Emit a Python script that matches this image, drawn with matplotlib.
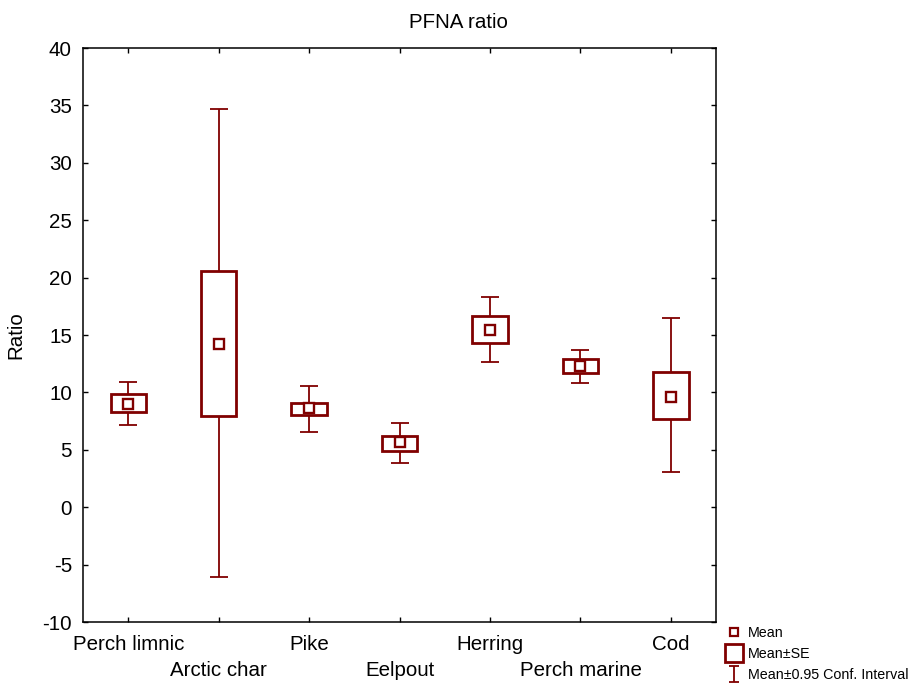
import matplotlib
matplotlib.use("Agg")
import matplotlib.pyplot as plt
from matplotlib.lines import Line2D
from matplotlib.path import Path

plt.rcParams["font.family"] = ["Liberation Sans", "DejaVu Sans"]
plt.rcParams["axes.unicode_minus"] = False

# ── data ─────────────────────────────────────────────────────────────────────
species = ["Perch limnic", "Arctic char", "Pike", "Eelpout",
           "Herring", "Perch marine", "Cod"]
mean    = [8.96, 14.19, 8.64, 5.68, 15.41, 12.30, 9.60]
se_lo   = [8.27,  7.94, 8.00, 4.90, 14.27, 11.72, 7.68]
se_hi   = [9.86, 20.57, 9.10, 6.20, 16.68, 12.90, 11.78]
ci_lo   = [7.16, -6.08, 6.55, 3.85, 12.62, 10.84, 3.07]
ci_hi   = [10.88, 34.66, 10.56, 7.33, 18.34, 13.72, 16.48]

col = "#800000"
fs = 14.8

fig = plt.figure(figsize=(9.17, 6.88), dpi=100)
ax = fig.add_axes([0.0905, 0.0959, 0.6905, 0.8343])

x = list(range(len(species)))

# whiskers (CI)
ax.errorbar(x, mean,
            yerr=[[m - lo for m, lo in zip(mean, ci_lo)],
                  [hi - m for m, hi in zip(mean, ci_hi)]],
            fmt="none", ecolor=col, elinewidth=1.3, capsize=6.5,
            capthick=1.3, zorder=2)
# SE boxes
ax.bar(x, [h - l for h, l in zip(se_hi, se_lo)], bottom=se_lo, width=0.39,
       facecolor="white", edgecolor=col, linewidth=2, zorder=3)
# mean markers
ax.plot(x, mean, ls="none", marker="s", ms=6.5, mfc="white", mec=col,
        mew=1.7, zorder=4)

ax.set_xlim(-0.5, len(species) - 0.5)
ax.set_ylim(-10, 40)
ax.set_yticks(range(-10, 41, 5))
# staggered category labels: even ones as major ticks, odd ones as minor
ax.set_xticks(x[0::2], species[0::2])
ax.set_xticks(x[1::2], species[1::2], minor=True)
ax.tick_params(which="both", direction="in", top=True, right=True,
               length=3.5, width=1, labelsize=fs)
ax.tick_params(axis="x", which="major", pad=9)
ax.tick_params(axis="x", which="minor", pad=28)
ax.tick_params(axis="y", pad=8)
for sp in ax.spines.values():
    sp.set_linewidth(1.1)
ax.set_ylabel("Ratio", fontsize=fs, labelpad=12)

fig.text(0.5, 0.968, "PFNA ratio", ha="center", va="center", fontsize=fs)

# ── legend ────────────────────────────────────────────────────────────────────
ibeam = Path([(-0.6, 1), (0.6, 1), (0, 1), (0, -1), (-0.6, -1), (0.6, -1)],
             [Path.MOVETO, Path.LINETO, Path.MOVETO, Path.LINETO,
              Path.MOVETO, Path.LINETO])
handles = [
    Line2D([], [], ls="none", marker="s", ms=6, mfc="white", mec=col, mew=1.6),
    Line2D([], [], ls="none", marker="s", ms=13, mfc="white", mec=col, mew=2),
    Line2D([], [], ls="none", marker=ibeam, ms=12, mec=col, mew=1.3),
]
labels = ["Mean", "Mean\u00b1SE", "Mean\u00b10.95 Conf. Interval"]
fig.legend(handles, labels, loc="lower left", bbox_to_anchor=(0.781, -0.006),
           frameon=False, fontsize=10.3, handlelength=1.1, handletextpad=0.4,
           labelspacing=0.5, borderpad=0.2)

fig.savefig("out.png", dpi=100, facecolor="white")
